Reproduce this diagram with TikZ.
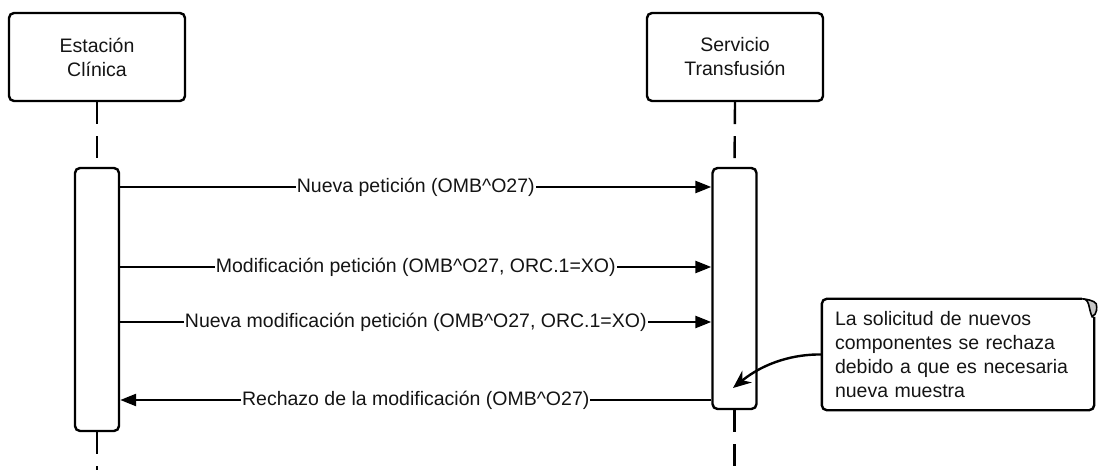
\documentclass[tikz,border=0pt]{standalone}
\usepackage{fontspec}
\setmainfont{Liberation Sans}
\usetikzlibrary{arrows.meta,calc}
\begin{document}
\begin{tikzpicture}[x=1pt,y=-1pt,
  every node/.style={font=\fontsize{19.5}{24}\selectfont, text=black!92},
  header/.style={draw=black, line width=2.4pt, rounded corners=5pt, minimum width=176pt, minimum height=88pt, align=center, inner sep=0pt},
  actbox/.style={draw=black, line width=2.4pt, rounded corners=5pt, minimum width=44pt, inner sep=0pt, fill=white},
  life/.style={draw=black, line width=2.4pt, dash pattern=on 22pt off 12pt},
  msg/.style={draw=black, line width=2.4pt, -{Triangle[length=16pt,width=12pt]}},
  msglabel/.style={fill=white, inner sep=1pt},
  notebox/.style={draw=black, line width=2.4pt, rounded corners=5pt},
  notearrow/.style={draw=black, line width=2.4pt, -{Stealth[length=18pt,width=15pt]}}
]
\useasboundingbox (0,0) rectangle (1098,470);

% headers
\node[header] (hL) at (97,57) {Estación\\Clínica};
\node[header] (hR) at (735,57) {Servicio\\Transfusión};

% activation boxes
\node[actbox, minimum height=263pt] (aL) at (97,299.5) {};
\node[actbox, minimum height=241pt] (aR) at (734.5,288.5) {};

% lifelines
\coordinate (eL) at (97,470);
\coordinate (eR) at (734.5,470);
\draw[life] (hL.south) -- (aL.north);
\draw[life] (hR.south) -- (aR.north);
\draw[life] (aL.south) -- (eL);
\draw[life] (aR.south) -- (eR);

% messages
\coordinate (m1a) at (aL.east |- 0,187);
\coordinate (m1b) at (aR.west |- 0,187);
\coordinate (m2a) at (aL.east |- 0,267);
\coordinate (m2b) at (aR.west |- 0,267);
\coordinate (m3a) at (aL.east |- 0,322);
\coordinate (m3b) at (aR.west |- 0,322);
\coordinate (m4a) at (aR.west |- 0,400);
\coordinate (m4b) at (aL.east |- 0,400);

\draw[msg] (m1a) -- node[msglabel] (l1) {Nueva petición (OMB\string^O27)} (m1b);
\draw[msg] (m2a) -- node[msglabel] (l2) {Modificación petición (OMB\string^O27, ORC.1=XO)} (m2b);
\draw[msg] (m3a) -- node[msglabel] (l3) {Nueva modificación petición (OMB\string^O27, ORC.1=XO)} (m3b);
\draw[msg] (m4a) -- node[msglabel] (l4) {Rechazo de la modificación (OMB\string^O27)} (m4b);

% note
\node[minimum width=272pt, minimum height=111pt, inner xsep=13pt, text width=246pt, align=left] (nt) at (958,354.5)
  {La solicitud de nuevos\\componentes se rechaza\\debido a que es necesaria\\nueva muestra};
\draw[notebox] ([xshift=-12pt]nt.north east) -- (nt.north west) -- (nt.south west) -- (nt.south east) -- ([yshift=-18pt]nt.north east);
\filldraw[fill=gray!45, draw=black, line width=1.6pt]
  ([xshift=-12pt]nt.north east) .. controls +(8,0) and +(-4,-8) .. ([xshift=-2pt,yshift=-18pt]nt.north east)
  .. controls +(5,-3) and +(1,4) .. ([xshift=2pt,yshift=-5pt]nt.north east) .. controls +(-1,-3) and +(3,0) .. cycle;

\coordinate (tip) at (733,388);
\draw[notearrow] (nt.west) .. controls (795,354) and (765,362) .. (tip);
\end{tikzpicture}
\end{document}
